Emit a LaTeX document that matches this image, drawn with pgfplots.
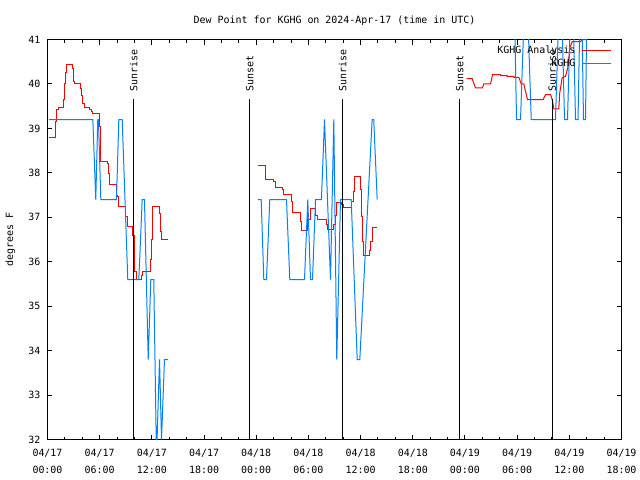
\documentclass[border=0pt]{standalone}
\usepackage{fontspec}
\setmainfont{DejaVu Sans Mono}
\usepackage{pgfplots}
\pgfplotsset{compat=1.18}
\definecolor{gred}{RGB}{255,0,0}
\definecolor{gblue}{RGB}{0,128,255}
\begin{document}
\begin{tikzpicture}
\path[use as bounding box] (-47.5bp,-40.5bp) rectangle (592.5bp,439.5bp);
\begin{axis}[
  scale only axis, width=574bp, height=400bp,
  at={(0,0)}, anchor=south west,
  xmin=0, xmax=66, ymin=32, ymax=41,
  xtick={0,6,...,66},
  xticklabels={{04/17\\00:00},{04/17\\06:00},{04/17\\12:00},{04/17\\18:00},{04/18\\00:00},{04/18\\06:00},{04/18\\12:00},{04/18\\18:00},{04/19\\00:00},{04/19\\06:00},{04/19\\12:00},{04/19\\18:00}},
  minor x tick num=2,
  ytick={32,33,...,41},
  tick pos=both, xticklabel pos=bottom, yticklabel pos=left,
  tick align=inside,
  major tick length=5bp, minor tick length=3bp,
  axis line style={line width=1bp},
  every tick/.style={black, line width=1bp},
  font=\fontsize{10}{12}\selectfont,
  xticklabel style={align=center, font=\fontsize{10}{17}\selectfont, inner sep=0pt, yshift=-9bp},
  yticklabel style={/pgf/number format/assume math mode=true, inner sep=0pt, xshift=-7bp},
  title={Dew Point for KGHG on 2024-Apr-17 (time in UTC)},
  every axis title/.style={at={(axis description cs:0.5,1.0475)}, anchor=center},
  ylabel={degrees F},
  every axis y label/.style={at={(axis description cs:-0.0645,0.5)}, rotate=90, anchor=center},
  legend style={at={(axis description cs:0.9826,0.985)}, anchor=north east, draw=none, fill=none, inner sep=0pt, row sep=3bp, font=\fontsize{10}{12}\selectfont, nodes={inner sep=0pt, text height=7.5bp, text depth=2.5bp}, /tikz/every odd column/.style={column sep=6bp}},
  legend cell align=right, legend plot pos=right,
  legend image code/.code={\draw[#1] (0bp,0bp) -- (29bp,0bp);},
]
% KGHG Analysis (red), segment 1
\addplot[gred, line width=1bp] coordinates {
(0.15,38.80) (0.95,38.80) (0.95,39.15) (1.03,39.15) (1.03,39.42) (1.23,39.42) (1.23,39.48) (1.80,39.48)
(1.80,39.65) (1.95,39.65) (1.95,40.02) (2.07,40.02) (2.07,40.25) (2.22,40.25) (2.22,40.44) (2.84,40.44)
(2.84,40.34) (2.99,40.34) (2.99,40.06) (3.14,40.06) (3.14,40.00) (3.79,40.00) (3.79,39.90) (3.94,39.90)
(3.94,39.73) (4.06,39.73) (4.06,39.56) (4.22,39.56) (4.22,39.48) (4.86,39.48) (4.86,39.43) (5.02,39.43)
(5.02,39.38) (5.21,39.38) (5.21,39.33) (5.98,39.33) (5.98,39.04) (6.09,39.04) (6.09,38.25) (6.86,38.25)
(6.86,38.20) (6.98,38.20) (6.98,37.99) (7.13,37.99) (7.13,37.73) (7.93,37.73) (7.93,37.50) (8.08,37.50)
(8.08,37.47) (8.22,37.47) (8.22,37.24) (8.97,37.24) (8.97,37.01) (9.23,37.01) (9.23,36.79) (9.77,36.79)
(9.77,36.60) (9.95,36.60) (9.95,35.77) (10.20,35.77) (10.20,35.59) (10.77,35.59) (10.77,35.70) (10.96,35.70)
(10.96,35.77) (11.84,35.77) (11.84,36.04) (11.93,36.04) (11.93,36.49) (12.13,36.49) (12.13,37.24) (12.88,37.24)
(12.88,37.09) (13.03,37.09) (13.03,36.68) (13.11,36.68) (13.11,36.50) (13.88,36.50)
};
\addlegendentry{KGHG Analysis}
% KGHG (blue), segment 1
\addplot[gblue, line width=1bp] coordinates {
(0.15,39.2) (5.21,39.2) (5.55,37.4) (5.78,39.2) (5.86,39.2) (6.13,37.4) (7.93,37.4) (8.20,39.2)
(8.59,39.2) (9.23,35.6) (10.50,35.6) (10.89,37.4) (11.15,37.4) (11.58,33.8) (11.88,35.6)
(12.22,35.6) (12.50,32.0) (12.60,32.0) (12.88,33.8) (13.11,32.0) (13.45,33.8) (13.88,33.8)
};
\addlegendentry{KGHG}
% red, segment 2
\addplot[gred, line width=1bp, forget plot] coordinates {
(24.18,38.17) (25.10,38.17) (25.10,37.86) (26.02,37.86) (26.02,37.80) (26.22,37.80) (26.22,37.68) (27.06,37.68)
(27.06,37.62) (27.17,37.62) (27.17,37.52) (28.02,37.52) (28.02,37.35) (28.14,37.35) (28.14,37.11) (29.06,37.11)
(29.06,36.90) (29.21,36.90) (29.21,36.71) (29.93,36.71) (29.93,36.94) (30.24,36.94) (30.24,37.19) (30.82,37.19)
(30.82,37.05) (31.01,37.05) (31.01,36.94) (32.08,36.94) (32.08,36.83) (32.23,36.83) (32.23,36.73) (32.90,36.73)
(32.90,36.83) (33.11,36.83) (33.11,37.05) (33.26,37.05) (33.26,37.33) (33.85,37.33) (33.85,37.28) (34.07,37.28)
(34.07,37.22) (34.95,37.22) (34.95,37.35) (35.15,37.35) (35.15,37.58) (35.30,37.58) (35.30,37.92) (35.99,37.92)
(35.99,37.62) (36.07,37.62) (36.07,37.01) (36.18,37.01) (36.18,36.45) (36.30,36.45) (36.30,36.13) (37.06,36.13)
(37.06,36.26) (37.17,36.26) (37.17,36.45) (37.33,36.45) (37.33,36.77) (37.91,36.77)
};
% red, segment 3
\addplot[gred, line width=1bp, forget plot] coordinates {
(48.18,40.12) (48.83,40.12) (49.21,39.91) (50.00,39.91) (50.17,40.00) (50.94,40.00) (51.17,40.21) (52.09,40.21)
(52.09,40.19) (52.86,40.19) (52.86,40.17) (53.62,40.17) (53.62,40.15) (54.19,40.15) (54.47,40.00) (54.77,40.00)
(54.96,39.83) (55.19,39.65) (57.00,39.65) (57.26,39.76) (57.84,39.76) (58.03,39.65) (58.22,39.44) (58.79,39.44)
(58.90,39.80) (59.18,40.14) (59.56,40.17) (59.82,40.36) (60.06,40.81) (60.33,40.95) (61.29,40.95) (61.48,41.00)
(62.06,41.00)
};
% blue, segment 2
\addplot[gblue, line width=1bp, forget plot] coordinates {
(24.18,37.4) (24.57,37.4) (24.87,35.6) (25.18,35.6) (25.56,37.4) (27.48,37.4) (27.86,35.6)
(29.55,35.6) (29.93,37.4) (30.24,35.6) (30.47,35.6) (30.82,37.4) (31.50,37.4) (31.85,39.2)
(32.54,35.6) (32.92,39.2) (33.26,33.8) (33.69,37.4) (34.92,37.4) (35.61,33.8) (35.91,33.8)
(37.33,39.2) (37.51,39.2) (37.91,37.4)
};
% blue, segment 3
\addplot[gblue, line width=1bp, forget plot] coordinates {
(53.58,42.8) (53.93,39.2) (54.39,39.2) (55.02,42.8) (55.62,39.2) (58.41,39.2) (58.98,42.8)
(59.45,39.2) (59.79,39.2) (60.31,42.8) (60.71,39.2) (61.00,39.2) (61.34,42.8) (61.63,39.2)
(61.86,39.2) (62.09,42.8)
};
% sunrise / sunset markers
\addplot[black, line width=1bp, forget plot] coordinates {(9.92,32) (9.92,39.67)};
\addplot[black, line width=1bp, forget plot] coordinates {(23.26,32) (23.26,39.67)};
\addplot[black, line width=1bp, forget plot] coordinates {(33.95,32) (33.95,39.67)};
\addplot[black, line width=1bp, forget plot] coordinates {(47.41,32) (47.41,39.67)};
\addplot[black, line width=1bp, forget plot] coordinates {(58.03,32) (58.03,39.67)};
\node[rotate=90, anchor=west, inner sep=0pt] at (axis cs:9.92,39.83) {Sunrise};
\node[rotate=90, anchor=west, inner sep=0pt] at (axis cs:23.26,39.83) {Sunset};
\node[rotate=90, anchor=west, inner sep=0pt] at (axis cs:33.95,39.83) {Sunrise};
\node[rotate=90, anchor=west, inner sep=0pt] at (axis cs:47.41,39.83) {Sunset};
\node[rotate=90, anchor=west, inner sep=0pt] at (axis cs:58.03,39.83) {Sunrise};
\end{axis}
\end{tikzpicture}
\end{document}
